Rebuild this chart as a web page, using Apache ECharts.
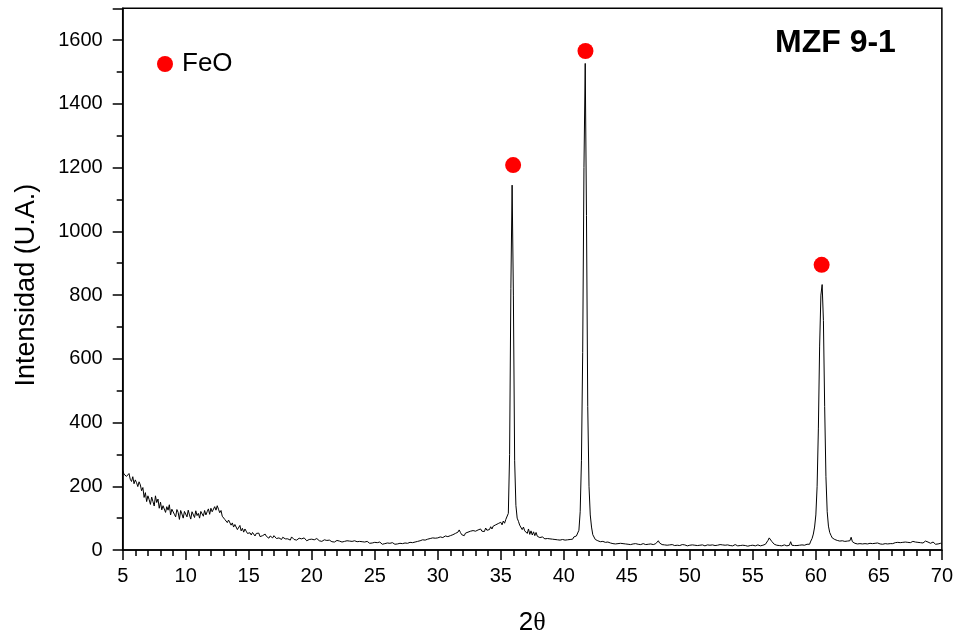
<!DOCTYPE html>
<html>
<head>
<meta charset="utf-8">
<script src="https://cdn.jsdelivr.net/npm/echarts@6/dist/echarts.min.js"></script>
<style>
html,body{margin:0;padding:0;background:#fff;}
#c{width:956px;height:641px;}
</style>
</head>
<body>
<div id="c"></div>
<script>
// 2θ sampling grid (degrees) and measured intensities
const angleStart = 5.0;
const angleStep = 0.1;
const intensity = [
  250,238,244,231,226,240,222,215,230,208,
  220,211,199,214,204,186,196,165,180,152,
  170,158,143,166,152,138,170,149,160,131,
  150,126,139,144,118,136,125,142,110,128,
  134,112,104,127,118,96,124,113,100,121,
  118,104,125,110,97,120,114,102,123,108,
  115,100,121,116,106,124,110,120,129,112,
  131,120,114,136,125,139,128,117,124,106,
  112,96,101,86,94,88,78,85,72,80,
  74,64,70,77,60,68,56,66,59,52,
  58,54,47,55,51,44,52,49,53,42,
  48,45,39,50,43,46,37,44,41,38,
  45,39,36,42,38,41,33,40,37,35,
  40,35,37,31,41,36,33,38,31,34,
  37,33,35,30,38,34,29,35,33,31,
  34,30,32,28,36,31,29,33,27,30,
  32,28,30,26,31,29,26,30,25,29,
  30,27,28,32,25,28,27,23,29,25,
  28,25,27,23,29,24,26,22,27,24,
  26,23,25,20,27,23,21,25,22,23,
  24,21,23,19,25,21,18,23,20,21,
  22,19,21,17,23,20,18,21,19,20,
  21,18,20,19,22,19,21,20,24,21,
  23,21,25,23,27,24,29,27,32,29,
  31,30,34,29,36,33,38,34,37,35,
  38,35,41,37,39,35,44,39,42,40,
  45,42,48,44,52,49,56,63,55,48,
  49,45,53,47,56,50,59,53,61,56,
  59,55,63,57,66,59,64,58,69,62,
  68,64,73,66,75,70,79,73,83,77,
  87,79,91,84,96,100,115,300,820,1145,
  800,280,140,100,90,78,75,64,72,60,
  63,52,66,49,60,47,57,45,55,43,
  47,39,45,41,43,35,40,36,39,35,
  37,34,39,33,36,32,35,31,36,33,
  35,31,37,32,38,33,39,34,41,36,
  44,48,62,120,280,620,1200,1527,1050,450,
  200,110,72,48,42,33,35,29,30,26,
  25,27,23,24,22,25,21,22,24,20,
  21,19,22,20,18,21,19,20,17,19,
  20,18,19,17,20,19,18,20,17,18,
  19,17,18,20,18,17,19,18,16,19,
  18,17,19,20,24,29,22,19,17,18,
  16,17,15,18,16,15,17,16,14,17,
  15,16,14,15,17,14,16,15,13,16,
  15,14,16,17,15,13,14,16,15,14,
  16,14,13,15,16,14,15,13,16,15,
  14,16,15,14,17,15,16,18,15,14,
  16,15,14,16,13,15,17,14,13,15,
  14,13,15,16,14,13,12,15,14,13,
  15,14,13,15,16,14,13,12,15,16,
  18,22,30,38,33,27,21,18,17,15,
  16,14,15,13,14,16,15,13,14,15,
  26,15,16,14,15,14,16,15,14,16,
  17,15,16,18,20,18,28,36,50,72,
  110,200,380,640,800,833,720,450,230,120,
  75,55,46,38,36,33,37,30,33,28,
  32,29,31,27,30,28,31,29,40,26,
  23,21,22,19,21,20,22,19,21,20,
  20,19,18,21,19,20,18,21,19,22,
  21,19,20,18,21,20,22,19,21,20,
  22,20,21,23,22,24,21,23,22,24,
  23,25,22,24,26,23,25,27,24,25,
  26,24,27,23,25,22,26,28,22,25,
  24,21,23,25,20,18,22,19,17,21,
  18
];
// FeO reflection markers
const feoAngles = [35.98, 41.72, 60.46];
const feoMarkerIntensity = [1208, 1566, 895];

const xMin = 5, xMax = 70, xInterval = 5;
const yMin = 0, yMax = 1700, yInterval = 200;

const lineData = intensity.map((v, i) => [+(angleStart + i * angleStep).toFixed(2), v]);
const feoData = feoAngles.map((a, i) => [a, feoMarkerIntensity[i]]);

const chart = echarts.init(document.getElementById('c'), null, {renderer: 'canvas'});
const font = 'Liberation Sans, Arial, Helvetica, sans-serif';
chart.setOption({
  animation: false,
  backgroundColor: '#fff',
  grid: {left: 122.7, right: 13.5, top: 8.3, bottom: 88.3, show: true, borderColor: '#000', borderWidth: 1.5, backgroundColor: 'transparent'},
  title: {
    text: 'MZF 9-1', left: 775, top: 27, padding: 0,
    textStyle: {fontSize: 32, fontWeight: 'bold', color: '#000', fontFamily: font}
  },
  legend: {
    data: ['FeO'], left: 157, top: 51, padding: 0,
    icon: 'circle', itemWidth: 16, itemHeight: 16, itemGap: 5,
    itemStyle: {opacity: 1},
    textStyle: {fontSize: 26, color: '#000', fontFamily: font, padding: [0,0,0,4]}
  },
  xAxis: {
    type: 'value', min: xMin, max: xMax, interval: xInterval,
    name: '{a|2}{b|θ}', nameLocation: 'middle', nameGap: 60,
    nameTextStyle: {rich: {a: {fontSize: 26, fontFamily: font, color: '#000'}, b: {fontSize: 26, fontFamily: 'Liberation Serif, Times New Roman, serif', color: '#000'}}},
    axisLine: {show: true, onZero: false, lineStyle: {color: '#000', width: 1.5}},
    axisTick: {show: true, inside: false, length: 10, lineStyle: {color: '#000', width: 1.5}},
    minorTick: {show: true, splitNumber: 5, length: 6, lineStyle: {color: '#000', width: 1.5}},
    axisLabel: {fontSize: 20, color: '#000', fontFamily: font, margin: 16},
    splitLine: {show: false}, minorSplitLine: {show: false}
  },
  yAxis: {
    type: 'value', min: yMin, max: yMax, interval: yInterval,
    name: 'Intensidad (U.A.)', nameLocation: 'middle', nameGap: 83, nameRotate: 90,
    nameTextStyle: {fontSize: 27, color: '#000', fontFamily: font, padding: [0, 12, 0, 0]},
    axisLine: {show: true, onZero: false, lineStyle: {color: '#000', width: 1.5}},
    axisTick: {show: true, inside: false, length: 10, lineStyle: {color: '#000', width: 1.5}},
    minorTick: {show: true, splitNumber: 2, length: 6, lineStyle: {color: '#000', width: 1.5}},
    axisLabel: {fontSize: 20, color: '#000', fontFamily: font, margin: 20, showMaxLabel: false,
      formatter: v => (v % yInterval === 0 ? String(v) : '')},
    splitLine: {show: false}, minorSplitLine: {show: false}
  },
  series: [
    {
      name: 'pattern', type: 'line', data: lineData, showSymbol: false, symbol: 'none',
      lineStyle: {color: '#000', width: 1}, z: 2, silent: true
    },
    {
      name: 'FeO', type: 'scatter', data: feoData, symbol: 'circle', symbolSize: 16,
      itemStyle: {color: '#ff0000', opacity: 1}, z: 3
    }
  ]
});
</script>
</body>
</html>
